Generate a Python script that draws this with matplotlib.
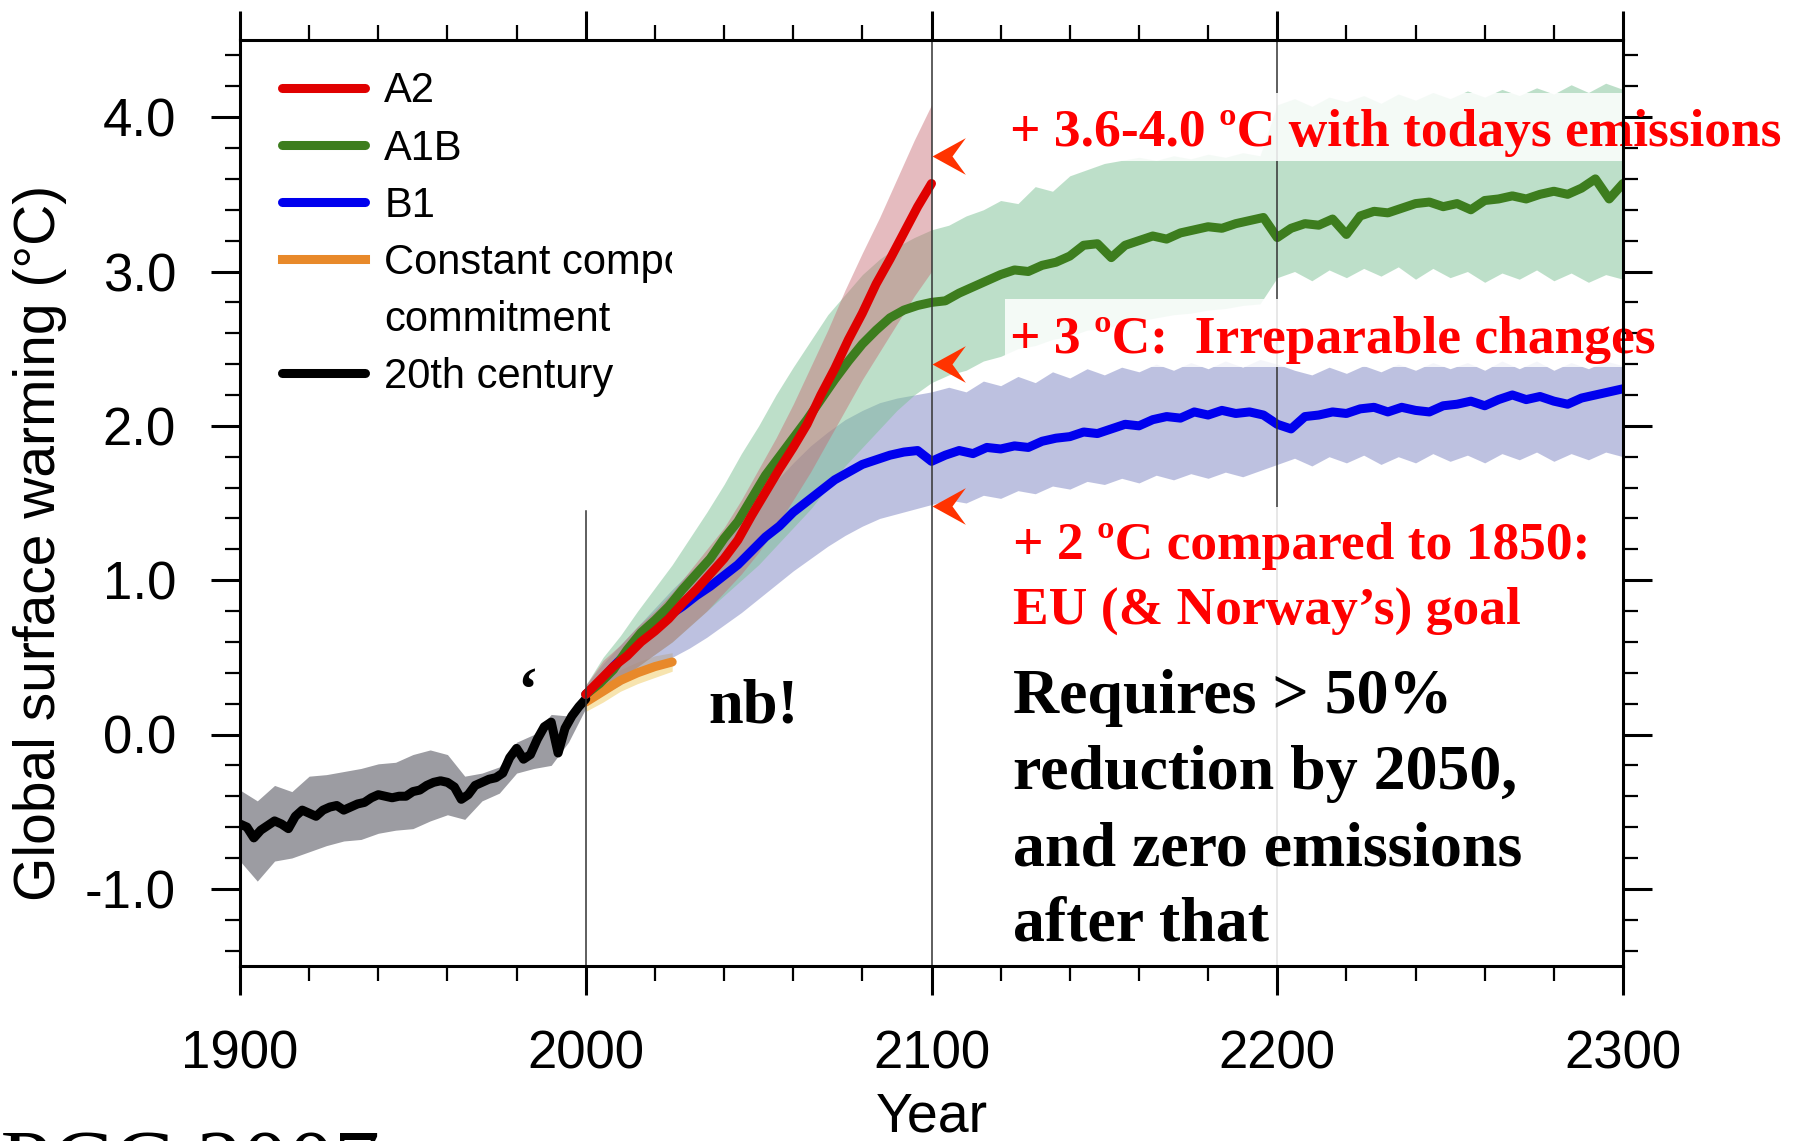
import matplotlib
matplotlib.use("Agg")
import matplotlib.pyplot as plt
import numpy as np
from matplotlib.path import Path
from matplotlib.patches import Rectangle
from matplotlib.lines import Line2D
from matplotlib.ticker import MultipleLocator, FormatStrFormatter
from matplotlib.transforms import Bbox, TransformedBbox

plt.rcParams['font.family'] = ['Liberation Sans', 'DejaVu Sans']
SERIF = ['Liberation Serif', 'DejaVu Serif']

# ---- data (°C) ----
years_20c = np.arange(1900, 2001, 2)
temp_20c = [-0.58, -0.60, -0.67, -0.62, -0.59, -0.56, -0.58, -0.61, -0.53, -0.49,
            -0.51, -0.53, -0.49, -0.47, -0.46, -0.49, -0.47, -0.45, -0.44, -0.41,
            -0.39, -0.40, -0.41, -0.40, -0.40, -0.37, -0.36, -0.33, -0.31, -0.30,
            -0.31, -0.34, -0.42, -0.39, -0.33, -0.31, -0.29, -0.28, -0.25, -0.15,
            -0.09, -0.16, -0.13, -0.03, 0.05, 0.08, -0.12, 0.04, 0.12, 0.18,
            0.23]
band_years_20c = np.arange(1900, 2001, 5)
upper_20c = [-0.36, -0.43, -0.33, -0.37, -0.27, -0.26, -0.24, -0.22, -0.19, -0.18,
             -0.13, -0.10, -0.13, -0.27, -0.25, -0.21, -0.05, 0.00, 0.13, 0.12, 0.26]
lower_20c = [-0.82, -0.95, -0.82, -0.80, -0.76, -0.72, -0.69, -0.68, -0.64, -0.62,
             -0.61, -0.56, -0.52, -0.55, -0.43, -0.38, -0.25, -0.22, -0.20, -0.05, 0.17]

years_a2 = np.arange(2000, 2101, 4)
temp_a2 = [0.26, 0.35, 0.44, 0.51, 0.60, 0.67, 0.75, 0.85, 0.94, 1.04,
           1.14, 1.26, 1.42, 1.57, 1.72, 1.86, 2.01, 2.20, 2.37, 2.56,
           2.73, 2.92, 3.08, 3.25, 3.42, 3.57]
band_years_a2 = np.arange(2000, 2101, 5)
upper_a2 = [0.32, 0.48, 0.58, 0.70, 0.80, 0.92, 1.06, 1.20, 1.34, 1.52,
            1.72, 1.92, 2.14, 2.38, 2.62, 2.88, 3.12, 3.35, 3.60, 3.85, 4.08]
lower_a2 = [0.20, 0.28, 0.36, 0.44, 0.52, 0.60, 0.70, 0.80, 0.92, 1.04,
            1.18, 1.34, 1.52, 1.70, 1.90, 2.10, 2.30, 2.48, 2.66, 2.84, 3.00]

years_scen = np.arange(2000, 2301, 4)
temp_a1b = [0.26, 0.33, 0.42, 0.55, 0.66, 0.74, 0.83, 0.94, 1.04, 1.14,
            1.27, 1.38, 1.53, 1.68, 1.80, 1.92, 2.04, 2.17, 2.30, 2.42,
            2.53, 2.62, 2.70, 2.75, 2.78, 2.80, 2.81, 2.86, 2.90, 2.94,
            2.98, 3.01, 3.00, 3.04, 3.06, 3.10, 3.17, 3.18, 3.09, 3.17,
            3.20, 3.23, 3.21, 3.25, 3.27, 3.29, 3.28, 3.31, 3.33, 3.35,
            3.22, 3.28, 3.31, 3.30, 3.34, 3.24, 3.36, 3.39, 3.38, 3.41,
            3.44, 3.45, 3.42, 3.44, 3.40, 3.46, 3.47, 3.49, 3.47, 3.50,
            3.52, 3.50, 3.54, 3.60, 3.47, 3.57]
temp_b1 = [0.26, 0.34, 0.44, 0.53, 0.62, 0.70, 0.77, 0.83, 0.90, 0.96,
           1.03, 1.10, 1.19, 1.28, 1.35, 1.44, 1.51, 1.58, 1.65, 1.70,
           1.75, 1.78, 1.81, 1.83, 1.84, 1.77, 1.81, 1.84, 1.82, 1.86,
           1.85, 1.87, 1.86, 1.90, 1.92, 1.93, 1.96, 1.95, 1.98, 2.01,
           2.00, 2.04, 2.06, 2.05, 2.09, 2.07, 2.10, 2.08, 2.09, 2.07,
           2.01, 1.98, 2.06, 2.07, 2.09, 2.08, 2.11, 2.12, 2.09, 2.12,
           2.10, 2.09, 2.13, 2.14, 2.16, 2.13, 2.17, 2.20, 2.17, 2.19,
           2.16, 2.14, 2.18, 2.20, 2.22, 2.24]

band_years = np.arange(2000, 2301, 5)
upper_a1b = [0.32, 0.50, 0.64, 0.80, 0.95, 1.10, 1.27, 1.44, 1.62, 1.82,
             2.00, 2.20, 2.38, 2.55, 2.72, 2.85, 2.98, 3.08, 3.16, 3.22,
             3.27, 3.30, 3.36, 3.40, 3.46, 3.44, 3.55, 3.52, 3.62, 3.66,
             3.70, 3.72, 3.74, 3.72, 3.75, 3.73, 3.76, 3.74, 3.77, 3.75,
             4.08, 4.12, 4.07, 4.13, 4.10, 4.14, 4.09, 4.15, 4.11, 4.16,
             4.12, 4.17, 4.13, 4.18, 4.14, 4.19, 4.15, 4.21, 4.16, 4.22,
             4.18]
lower_a1b = [0.20, 0.28, 0.36, 0.44, 0.52, 0.60, 0.70, 0.80, 0.90, 1.00,
             1.10, 1.22, 1.34, 1.46, 1.60, 1.74, 1.86, 1.98, 2.10, 2.20,
             2.28, 2.33, 2.36, 2.42, 2.45, 2.50, 2.52, 2.56, 2.58, 2.62,
             2.63, 2.66, 2.68, 2.70, 2.72, 2.73, 2.75, 2.76, 2.78, 2.79,
             2.96, 3.00, 2.94, 3.01, 2.96, 3.02, 2.97, 3.03, 2.95, 3.02,
             2.96, 3.00, 2.93, 2.99, 2.95, 3.01, 2.94, 2.99, 2.93, 2.98,
             2.95]
upper_b1 = [0.32, 0.46, 0.58, 0.70, 0.82, 0.94, 1.05, 1.16, 1.28, 1.40,
            1.52, 1.64, 1.76, 1.87, 1.96, 2.04, 2.10, 2.15, 2.18, 2.20,
            2.22, 2.25, 2.22, 2.29, 2.26, 2.32, 2.28, 2.35, 2.31, 2.37,
            2.33, 2.38, 2.35, 2.40, 2.36, 2.41, 2.37, 2.42, 2.38, 2.43,
            2.40, 2.36, 2.33, 2.38, 2.34, 2.39, 2.35, 2.40, 2.36, 2.41,
            2.37, 2.41, 2.36, 2.42, 2.37, 2.42, 2.36, 2.41, 2.37, 2.42,
            2.39]
lower_b1 = [0.20, 0.26, 0.32, 0.40, 0.46, 0.50, 0.56, 0.63, 0.71, 0.79,
            0.88, 0.97, 1.06, 1.14, 1.22, 1.29, 1.35, 1.40, 1.43, 1.46,
            1.49, 1.52, 1.50, 1.55, 1.53, 1.58, 1.56, 1.61, 1.59, 1.64,
            1.62, 1.66, 1.63, 1.68, 1.65, 1.69, 1.66, 1.70, 1.67, 1.71,
            1.75, 1.79, 1.74, 1.80, 1.76, 1.81, 1.75, 1.80, 1.76, 1.82,
            1.77, 1.81, 1.76, 1.82, 1.78, 1.83, 1.77, 1.82, 1.78, 1.83,
            1.80]

years_commit = [2000, 2005, 2010, 2015, 2020, 2025]
temp_commit = [0.21, 0.28, 0.35, 0.40, 0.44, 0.47]
upper_commit = [0.27, 0.35, 0.42, 0.47, 0.51, 0.53]
lower_commit = [0.15, 0.21, 0.28, 0.33, 0.37, 0.41]

arrow_levels = [3.75, 2.40, 1.48]

# ---- figure ----
W, H = 1793, 1141
fig = plt.figure(figsize=(W / 100, H / 100), dpi=100)
ax = fig.add_axes([240 / W, 1 - 966 / H, 1383 / W, 926 / H])

ax.fill_between(band_years_20c, lower_20c, upper_20c, color='#9c9ca2', lw=0, zorder=1)
ax.fill_between(years_commit, lower_commit, upper_commit, color='#f2d27a', alpha=0.6, lw=0, zorder=1)
ax.fill_between(band_years, lower_b1, upper_b1, color='#7d84c2', alpha=0.5, lw=0, zorder=1.1)
ax.fill_between(band_years, lower_a1b, upper_a1b, color='#7cc194', alpha=0.5, lw=0, zorder=1.2)
ax.fill_between(band_years_a2, lower_a2, upper_a2, color='#c76a72', alpha=0.45, lw=0, zorder=1.3)

LW = 6.5
ax.plot(years_commit, temp_commit, color='#e8892a', lw=LW, zorder=2, solid_capstyle='round')
l20, = ax.plot(years_20c, temp_20c, color='black', lw=LW, zorder=3, solid_capstyle='round')
lb1, = ax.plot(years_scen, temp_b1, color='#0000ee', lw=LW, zorder=3, solid_capstyle='round')
la1b, = ax.plot(years_scen, temp_a1b, color='#3d7d1e', lw=LW, zorder=3.1, solid_capstyle='round')
la2, = ax.plot(years_a2, temp_a2, color='#e00000', lw=LW, zorder=3.2, solid_capstyle='round')

# reference lines
ax.axvline(2000, ymin=0, ymax=(1.45 + 1.5) / 6.0, color='#333333', lw=1.1, zorder=4)
ax.axvline(2100, color='#333333', lw=1.1, zorder=4)
ax.axvline(2200, color='#333333', lw=1.1, zorder=4)

# white panels behind the annotations
for (x0, y0, y1) in [(2121.3, 3.718, 4.156), (2121.3, 2.38, 2.82), (2121.3, -1.5, 1.475)]:
    ax.add_patch(Rectangle((x0, y0), 2300 - x0, y1 - y0, facecolor='white',
                           edgecolor='none', alpha=0.85, zorder=5))

# arrowheads
arrow = Path([(0, 0), (1, 0.55), (0.6, 0), (1, -0.55), (0, 0)],
             [Path.MOVETO, Path.LINETO, Path.LINETO, Path.LINETO, Path.CLOSEPOLY])
ax.plot([2100] * len(arrow_levels), arrow_levels, ls='none', marker=arrow,
        ms=48, color='#ff3300', mec='none', zorder=6, clip_on=False)

ax.set_xlim(1900, 2300)
ax.set_ylim(-1.5, 4.5)
ax.xaxis.set_major_locator(MultipleLocator(100))
ax.xaxis.set_minor_locator(MultipleLocator(20))
ax.yaxis.set_major_locator(MultipleLocator(1.0))
ax.yaxis.set_minor_locator(MultipleLocator(0.2))
ax.yaxis.set_major_formatter(FormatStrFormatter('%.1f'))
ax.tick_params(which='major', direction='out', length=21, width=2.2,
               top=True, right=True, labelsize=38, pad=25)
ax.tick_params(which='minor', direction='out', length=11, width=1.6,
               top=True, right=True)
for s in ax.spines.values():
    s.set_linewidth(2.2)
    s.set_zorder(10)

fig.text(40 / W, 1 - 543 / H, 'Global surface warming (°C)', rotation=90,
         ha='center', va='center', fontsize=41)
ax.set_xlabel('Year', fontsize=40)
ax.xaxis.set_label_coords(0.5, -(1092 - 966) / 926)

# legend
blank = Line2D([], [], color='none')
lcommit = Line2D([], [], color='#e8892a', lw=LW)
leg = ax.legend([la2, la1b, lb1, lcommit, blank, l20],
                ['A2', 'A1B', 'B1', 'Constant composition', 'commitment', '20th century'],
                loc='upper left', bbox_to_anchor=(0.0304, 0.966), frameon=False,
                fontsize=30, handlelength=2.0, handletextpad=0.45,
                labelspacing=0.41, borderpad=0, borderaxespad=0)
leg.set_zorder(7)
txt = leg.get_texts()[3]
txt.set_clip_box(TransformedBbox(Bbox.from_extents(0, 0, 672 / W, 1), fig.transFigure))
txt.set_clip_on(True)

# annotations
red = '#ff0000'
ax.text(2122.6, 3.81, '+ 3.6-4.0 ºC with todays emissions', color=red, fontsize=38.5,
        fontweight='bold', family=SERIF, va='baseline', zorder=8, clip_on=False)
ax.text(2122.6, 2.47, '+ 3 ºC:  Irreparable changes', color=red, fontsize=38.5,
        fontweight='bold', family=SERIF, va='baseline', zorder=8, clip_on=False)
ax.text(2123.7, 1.134, '+ 2 ºC compared to 1850:', color=red, fontsize=38.5,
        fontweight='bold', family=SERIF, va='baseline', zorder=8)
ax.text(2123.7, 0.718, 'EU (& Norway’s) goal', color=red, fontsize=38.5,
        fontweight='bold', family=SERIF, va='baseline', zorder=8)
for yb, line in zip([0.138, -0.35, -0.847, -1.337],
                    ['Requires > 50%', 'reduction by 2050,', 'and zero emissions', 'after that']):
    ax.text(2123.7, yb, line, color='black', fontsize=46, fontweight='bold',
            family=SERIF, va='baseline', zorder=8)
ax.text(2048.4, 0.08, 'nb!', color='black', fontsize=45, fontweight='bold',
        family=SERIF, ha='center', va='baseline', zorder=8)
ax.text(1983, 0.26, '‘', color='black', fontsize=44, fontweight='bold',
        family=SERIF, ha='center', va='center', zorder=8)

fig.text(-30 / W, 1 - 1193 / H, 'IPCC 2007', fontsize=66, family=SERIF,
         va='baseline', ha='left')

fig.savefig('out.png', dpi=100)
